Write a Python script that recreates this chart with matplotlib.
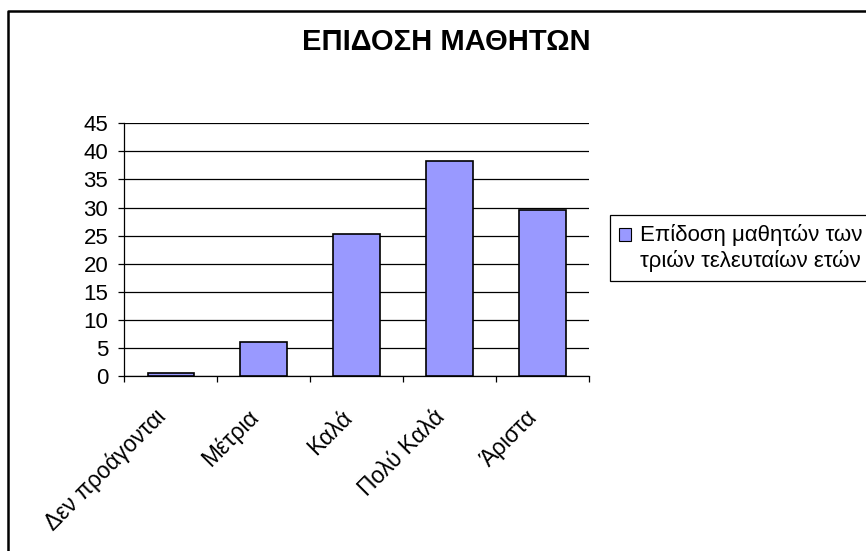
import matplotlib.pyplot as plt
from matplotlib.lines import Line2D
from matplotlib.patches import Patch, Rectangle
from matplotlib.legend_handler import HandlerPatch

plt.rcParams['font.family'] = ['Liberation Sans', 'DejaVu Sans']

categories = ['Δεν προάγονται', 'Μέτρια', 'Καλά', 'Πολύ Καλά', 'Άριστα']
values = [0.5, 6.0, 25.3, 38.3, 29.6]
yticks = [0, 5, 10, 15, 20, 25, 30, 35, 40, 45]
series_name = 'Επίδοση μαθητών των\nτριών τελευταίων ετών'
title = 'ΕΠΙΔΟΣΗ ΜΑΘΗΤΩΝ'
bar_color = '#9999ff'

fig = plt.figure(figsize=(8.66, 5.51), dpi=100)
ax = fig.add_axes([0.1435, 0.3176, 0.5366, 0.4586])

x = [i + 0.5 for i in range(len(categories))]
ax.bar(x, values, width=0.5, color=bar_color, edgecolor='black', linewidth=1.2, zorder=3)

ax.set_xlim(0, len(categories))
ax.set_ylim(0, 45)
ax.set_yticks(yticks)
ax.yaxis.grid(True, color='black', linewidth=0.9, zorder=0)
ax.set_axisbelow(True)

# category boundaries get the ticks, labels sit at the centres
ax.set_xticks(range(len(categories) + 1))
ax.set_xticklabels([])
ax.set_xticks(x, minor=True)
ax.set_xticklabels(categories, minor=True, rotation=45, ha='right', va='bottom',
                   rotation_mode='anchor', fontsize=16.5)
ax.tick_params(axis='x', which='minor', length=0, pad=33)
ax.tick_params(axis='x', which='major', length=4.5, width=0.9, direction='out')
ax.tick_params(axis='y', length=4.5, width=0.9, direction='out', labelsize=16, pad=7)

for s in ['top', 'right']:
    ax.spines[s].set_visible(False)
for s in ['left', 'bottom']:
    ax.spines[s].set_linewidth(0.9)

fig.text(0.515, 0.924, title, ha='center', va='center', fontsize=21, fontweight='bold')


def top_square(legend, orig_handle, xdescent, ydescent, width, height, fontsize):
    # keep the key square beside the first text line
    return Rectangle((-xdescent, -ydescent + 0.62 * fontsize), width, height)


handle = Patch(facecolor=bar_color, edgecolor='black', linewidth=0.8)
leg = fig.legend([handle], [series_name], loc='upper left',
                 bbox_to_anchor=(610 / 866, 1 - 215 / 551), fontsize=16,
                 handlelength=0.53, handleheight=0.53, handletextpad=0.42,
                 borderpad=0.42, borderaxespad=0, labelspacing=0.2, fancybox=False,
                 edgecolor='black', framealpha=1,
                 handler_map={Patch: HandlerPatch(patch_func=top_square)})
leg.get_frame().set_linewidth(0.9)

# outer chart frame (left and top edges visible)
fx = 8 / 866
fy = 1 - 11 / 551
fig.add_artist(Line2D([fx, fx, 1.0], [0.0, fy, fy], color='black', linewidth=1.8,
                      transform=fig.transFigure))

fig.savefig('out.png', dpi=100)
